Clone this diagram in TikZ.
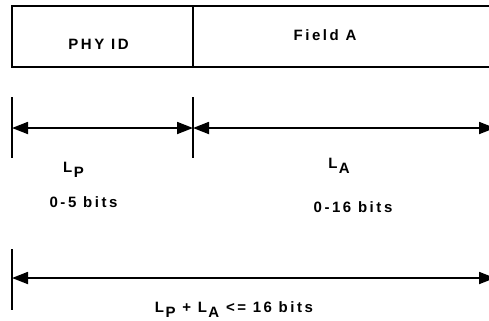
\documentclass[tikz,border=0pt]{standalone}
\usepackage{fontspec}
\usetikzlibrary{arrows.meta}
\newfontfamily\labfont{Liberation Sans}[LetterSpace=17]
\newcommand{\lab}{\labfont\bfseries\fontsize{15bp}{17bp}\selectfont}
\newcommand{\lsub}[1]{\kern1.5bp\raisebox{-5bp}{#1}}
\begin{document}
\begin{tikzpicture}[x=1bp,y=-1bp,
  lbl/.style={font=\lab, inner sep=0pt, anchor=base},
  cell/.style={draw, line width=1.8bp, minimum height=61bp, inner sep=0pt, outer sep=0pt, anchor=north west},
  dimarrow/.style={line width=1.8bp, {Triangle[length=16bp,width=12bp]}-{Triangle[length=16bp,width=12bp]}},
  tickline/.style={line width=1.8bp}]
\useasboundingbox (0,0) rectangle (489,320);
\clip (0,0) rectangle (489,320);
% frame cells
\node[cell, minimum width=181bp] (phy) at (12,6) {};
\node[cell, minimum width=330bp] (fielda) at (193,6) {};
\node[lbl] (phytxt) at (98.5,49) {PHY ID};
\node[lbl] (fatxt) at (325,40) {Field A};
% ticks
\coordinate (t1a) at (12,97);  \coordinate (t1b) at (12,158);
\coordinate (t2a) at (193,97); \coordinate (t2b) at (193,158);
\coordinate (t3a) at (12,249); \coordinate (t3b) at (12,310);
\draw[tickline] (t1a) -- (t1b);
\draw[tickline] (t2a) -- (t2b);
\draw[tickline] (t3a) -- (t3b);
% arrows
\coordinate (a1) at (12,128);
\coordinate (a2) at (193,128);
\coordinate (a3) at (495,128);
\coordinate (b1) at (12,278);
\coordinate (b2) at (495,278);
\draw[dimarrow] (a1) -- (a2);
\draw[dimarrow] (a2) -- (a3);
\draw[dimarrow] (b1) -- (b2);
% labels
\node[lbl] (lp) at (73.5,172) {L\lsub{P}};
\node[lbl] (lpbits) at (83.5,207) {0-5 bits};
\node[lbl] (la) at (339,168) {L\lsub{A}};
\node[lbl] (labits) at (353,212) {0-16 bits};
\node[lbl] (sum) at (234,312.5) {L\lsub{P} + L\lsub{A} <= 16 bits};
\end{tikzpicture}
\end{document}
